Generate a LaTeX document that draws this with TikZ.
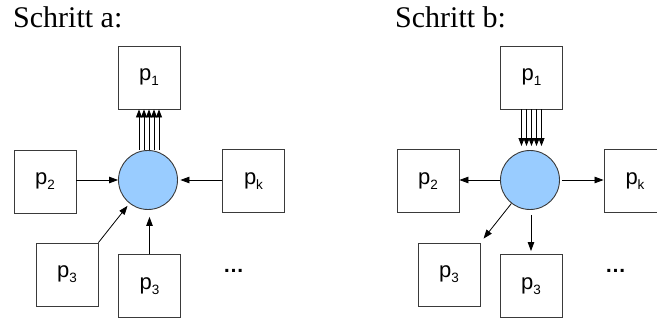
\documentclass[tikz,border=0pt]{standalone}
\usepackage{fontspec}
\setmainfont{Liberation Serif}
\newfontfamily\labelfont{Liberation Sans}
\usetikzlibrary{arrows.meta}
\definecolor{nodeblue}{HTML}{99CCFF}
\definecolor{rimgray}{HTML}{3A3A3A}
\newcommand{\proc}[1]{p\raisebox{-0.22em}{\fontsize{13.5}{13.5}\selectfont #1}}
\begin{document}
\begin{tikzpicture}[x=1pt,y=-1pt,
  procbox/.style={draw=rimgray,line width=0.9pt,minimum width=62pt,minimum height=63pt,
    inner sep=0pt,font=\labelfont\fontsize{22}{22}\selectfont},
  hub/.style={circle,draw=rimgray,line width=0.9pt,fill=nodeblue,minimum size=59pt,inner sep=0pt},
  flow/.style={line width=0.8pt,-{Triangle[length=9pt,width=6.5pt]}},
  bundle/.style={line width=0.8pt,-{Triangle[length=8pt,width=6pt]}},
  caption/.style={anchor=base west,inner sep=0pt,font=\fontsize{30}{30}\selectfont},
  etc/.style={inner sep=0pt,anchor=base,font=\labelfont\bfseries\fontsize{21}{21}\selectfont}]
\useasboundingbox (0,0) rectangle (657,323);
\clip (0,0) rectangle (657,323);

% ---- step a: every process sends to the hub, hub sends everything to p1
\node[caption] (ta) at (13,28) {Schritt a:};
\node[hub] (ca) at (148,180) {};
\node[procbox] (p1a) at (149,77.5) {\proc{1}};
\node[procbox] (p2a) at (45,181.5) {\proc{2}};
\node[procbox] (pka) at (253.5,181) {\proc{k}};
\node[procbox] (p3a) at (67,274.5) {\proc{3}};
\node[procbox] (p3b) at (149.5,286) {\proc{3}};
\node[etc] (da) at (233.5,273) {…};

\foreach \dx in {-10,-5,0,5,10}
  \draw[bundle] ([xshift=\dx pt]p1a.south |- ca.north) -- ([xshift=\dx pt]p1a.south);
\draw[flow] (p2a.east |- ca) -- (ca.west);
\draw[flow,shorten >=2.5pt] (pka.west |- ca) -- (ca.east);
\draw[flow,shorten >=3pt] (p3a.north east) -- (ca);
\draw[flow,shorten >=7pt] (p3b.north) -- (p3b.north |- ca.south);

% ---- step b: p1 sends everything to the hub, hub distributes
\node[caption] (tb) at (395,28) {Schritt b:};
\node[hub] (cb) at (530,180) {};
\node[procbox] (p1b) at (531.5,77.5) {\proc{1}};
\node[procbox] (p2b) at (428,181) {\proc{2}};
\node[procbox] (pkb) at (635,181) {\proc{k}};
\node[procbox] (p3c) at (449,274.5) {\proc{3}};
\node[procbox] (p3d) at (531,286) {\proc{3}};
\node[etc] (db) at (615.5,273) {…};

\foreach \dx in {-10,-5,0,5,10}
  \draw[bundle,shorten >=4pt] ([xshift=\dx pt]p1b.south) -- ([xshift=\dx pt]p1b.south |- cb.north);
\draw[flow] (cb.west) -- (p2b.east |- cb);
\draw[flow,shorten <=2pt] (cb.east) -- (pkb.west |- cb);
\draw[flow,shorten >=5pt] (cb) -- (p3c.north east);
\draw[flow,shorten <=5pt,shorten >=3pt] (p3d.north |- cb.south) -- (p3d.north);
\end{tikzpicture}
\end{document}
